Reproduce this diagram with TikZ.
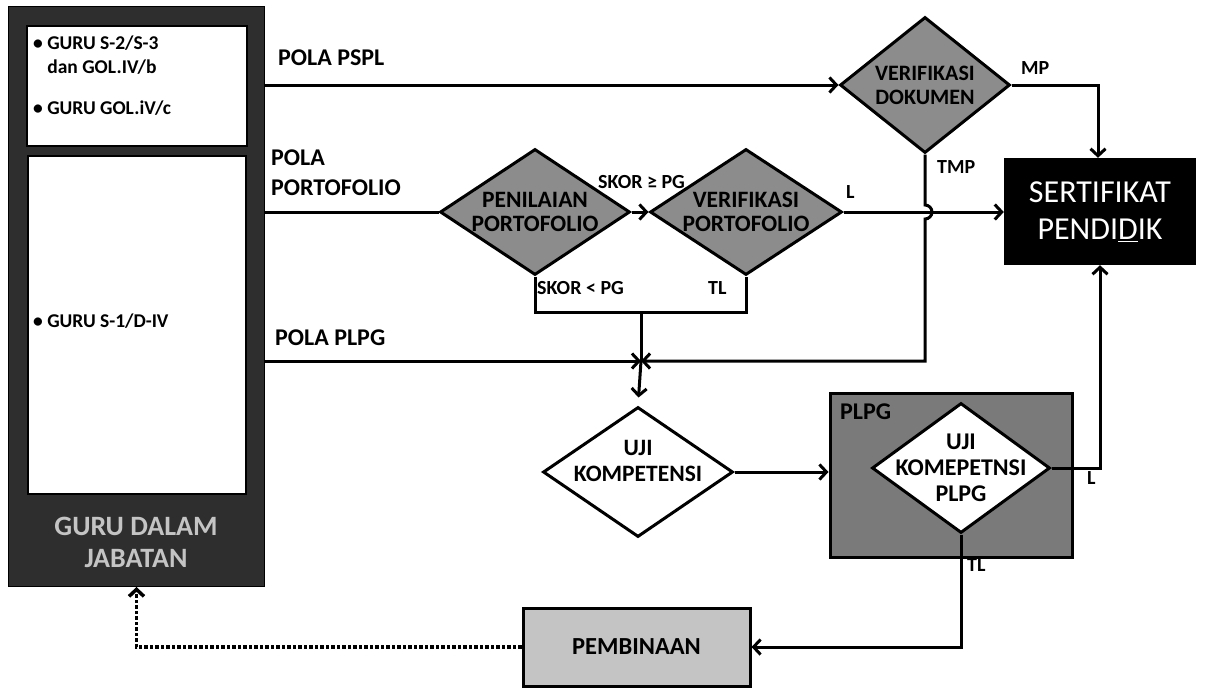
\documentclass[tikz,border=0pt]{standalone}
\usepackage{fontspec}
\setmainfont{Carlito}
\usetikzlibrary{shapes.geometric,arrows.meta}
\definecolor{darkbox}{HTML}{2E2E2E}
\definecolor{midgray}{HTML}{8C8C8C}
\definecolor{plpggray}{HTML}{7A7A7A}
\definecolor{lightgray}{HTML}{C4C4C4}
\tikzset{
  lbl/.style={font=\fontsize{24}{30}\selectfont\bfseries, anchor=west, inner sep=0pt},
  small/.style={font=\fontsize{20}{22}\selectfont\bfseries, anchor=west, inner sep=0pt},
  dia/.style={diamond, draw, line width=3pt, inner sep=0pt},
  dtext/.style={align=center, inner sep=0pt, font=\fontsize{23.5}{24}\selectfont\bfseries},
  conn/.style={line width=3pt},
  arr/.style={line width=3pt, -{Straight Barb[length=7pt,width=15pt]}},
  bullet/.style={font=\fontsize{19.5}{24}\selectfont\bfseries, anchor=north west, align=left, inner sep=0pt},
}
\begin{document}
\begin{tikzpicture}[x=1pt,y=-1pt]
\useasboundingbox (0,0) rectangle (1206,688);
% left block
\node[fill=darkbox, draw=black, line width=1pt, minimum width=256pt, minimum height=580pt, anchor=north west, inner sep=0pt] (guru) at (8,6) {};
\node[fill=white, draw=black, line width=2pt, minimum width=220pt, minimum height=120pt, anchor=north west, inner sep=0pt] (topbox) at (26,25) {};
\node[fill=white, draw=black, line width=2pt, minimum width=218pt, minimum height=338pt, anchor=north west, inner sep=0pt] (lowbox) at (27,155) {};
\node[bullet] (b1) at (33,36) {\textbullet\ GURU S-2/S-3\\ \phantom{\textbullet\ }dan GOL.IV/b};
\node[bullet] (b2) at (33,101) {\textbullet\ GURU GOL.iV/c};
\node[bullet] (b3) at (33,314) {\textbullet\ GURU S-1/D-IV};
\node[font=\fontsize{28}{32}\selectfont\bfseries, text=lightgray, align=center] (gdj) at (136,542) {GURU DALAM\\JABATAN};
% diamonds
\node[dia, fill=midgray, minimum width=190pt, minimum height=126pt] (pp) at (535,212) {};
\node[dtext] (ppt) at (pp) {PENILAIAN\\PORTOFOLIO};
\node[dia, fill=midgray, minimum width=192pt, minimum height=126pt] (vp) at (746,212) {};
\node[dtext] (vpt) at (vp) {VERIFIKASI\\PORTOFOLIO};
\node[dia, fill=midgray, minimum width=170pt, minimum height=136pt] (vd) at (925,85) {};
\node[dtext, font=\fontsize{22}{24}\selectfont\bfseries] (vdt) at (vd) {VERIFIKASI\\DOKUMEN};
\node[fill=black, minimum width=192pt, minimum height=107pt, inner sep=0pt, text=white, align=center,
  font=\fontsize{32}{37}\selectfont] (sert) at (1100,211.5) {SERTIFIKAT\\PENDI\underline{D}IK};
\node[dia, fill=white, minimum width=190pt, minimum height=130pt] (uk) at (638,472) {};
\node[dtext, font=\fontsize{23.5}{26}\selectfont\bfseries] (ukt) at ([yshift=11pt]uk.center) {UJI\\KOMPETENSI};
\node[fill=plpggray, draw=black, line width=3pt, minimum width=242pt, minimum height=164pt, inner sep=0pt] (plpg) at (951,475) {};
\node[small, font=\fontsize{24}{26}\selectfont\bfseries] (plpglbl) at (840,412) {PLPG};
\node[dia, fill=white, minimum width=178pt, minimum height=130pt] (ukp) at (961,468) {};
\node[dtext, font=\fontsize{24}{26}\selectfont\bfseries] (ukpt) at (ukp) {UJI\\KOMEPETNSI\\PLPG};
\node[fill=lightgray, draw=black, line width=3pt, minimum width=227pt, minimum height=78pt, inner sep=0pt,
  font=\fontsize{24.5}{26}\selectfont\bfseries] (pemb) at (636.5,647) {PEMBINAAN};
% labels
\node[lbl] (lpspl) at (278,58) {POLA PSPL};
\node[lbl, anchor=north west, align=left] (lport) at (271,150) {POLA\\PORTOFOLIO};
\node[lbl] (lplpg) at (275,338) {POLA PLPG};
\node[small] (lskor1) at (598,182) {SKOR ≥ PG};
\node[small] (lskor2) at (537,288) {SKOR < PG};
\node[small] (ltl1) at (708,288) {TL};
\node[small] (ll1) at (846,192) {L};
\node[small] (lmp) at (1021,68) {MP};
\node[small] (ltmp) at (937,167) {TMP};
\node[small] (ll2) at (1087,478) {L};
\node[small] (ltl2) at (967,565) {TL};
% coordinates
\coordinate (m) at (641,361);
\coordinate (sub) at (641,312);
\coordinate (mpc) at (1098,85);
% connectors
\draw[arr] (guru.east |- vd.west) -- (vd.west);
\draw[conn] (guru.east |- pp.west) -- (pp.west);
\draw[arr] (pp.east) -- (vp.west);
\draw[arr] (vp.east) -- (vp.east -| sert.west);
\draw[arr] (vd.east) -- (mpc) -- (mpc |- sert.north);
\draw[conn] (pp.south) -- (pp.south |- sub) -- (vp.south |- sub) -- (vp.south);
\draw[conn] (sub) -- (m);
\draw[arr] (guru.east |- m) -- (m);
\draw[arr] (vd.south) -- (925,205) arc[start angle=90, end angle=-90, radius=7pt] -- (925,361) -- (m);
\draw[arr, shorten >=8pt] (m) -- (uk.north);
\draw[arr] (uk.east) -- (uk.east -| plpg.west);
\draw[arr] (ukp.east) -| (sert.south);
\draw[arr] (ukp.south) |- (pemb.east);
\draw[line width=3.5pt, dotted, -{Straight Barb[length=7pt,width=15pt]}] (pemb.west) -| (guru.south);
\end{tikzpicture}
\end{document}
